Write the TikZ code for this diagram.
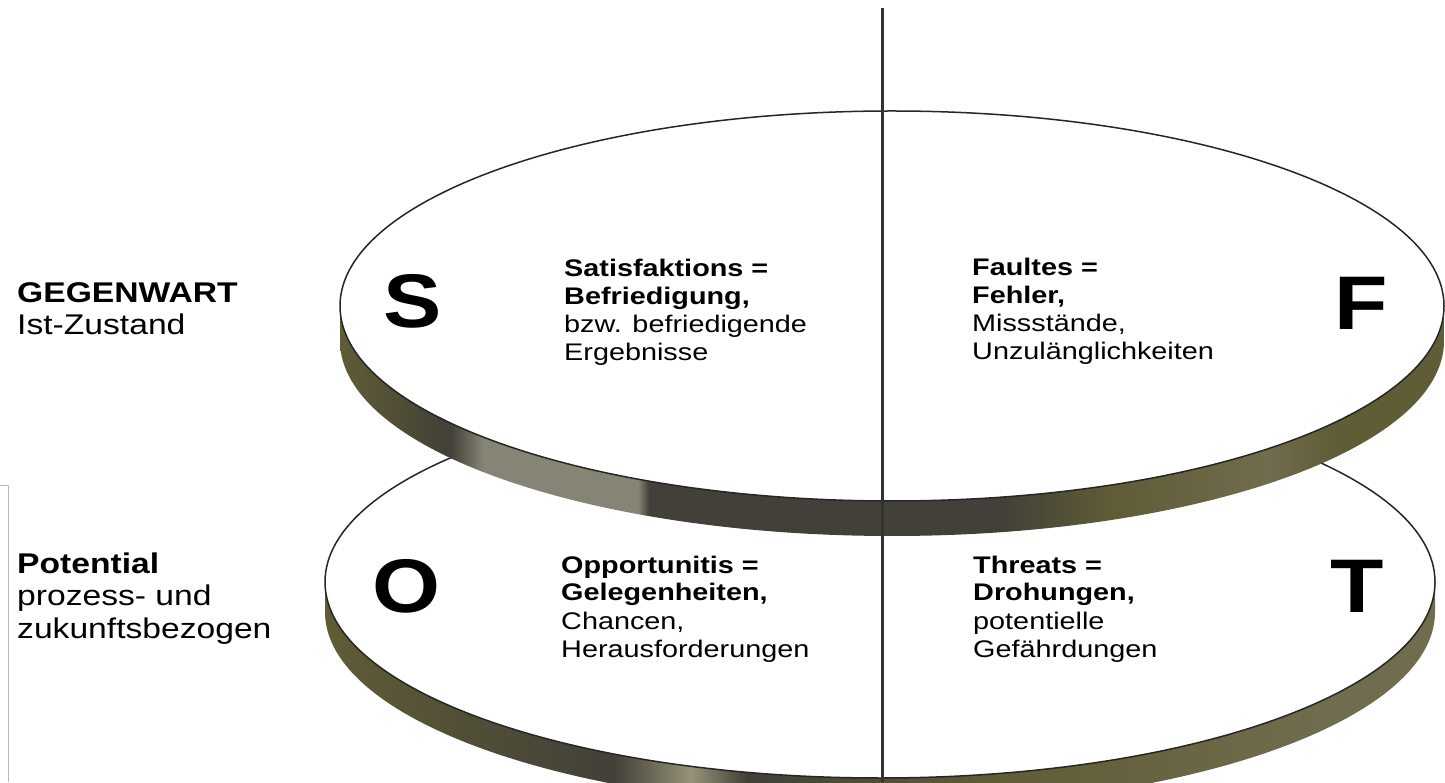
\documentclass[tikz,border=0pt]{standalone}
\usepackage{fontspec}
\setmainfont{Liberation Sans}
\newfontfamily\swotfont[FakeStretch=1.2]{Liberation Sans}
\newfontfamily\letterfont[FakeStretch=1.15]{Liberation Sans}
\newfontfamily\sidefont[FakeStretch=1.18]{Liberation Sans}
\usepackage{tikz}
\definecolor{rimolive}{RGB}{96,92,54}
\definecolor{rimdark}{RGB}{66,64,56}
\definecolor{rimlight}{RGB}{134,132,116}
\definecolor{rimmid}{RGB}{112,108,78}
\definecolor{rimtan}{RGB}{150,146,120}
\pgfdeclarehorizontalshading{toprim}{100bp}{color(0bp)=(rimolive); color(25bp)=(rimolive);
  color(30bp)=(rimdark); color(31.5bp)=(rimlight); color(38.5bp)=(rimlight); color(39bp)=(rimdark);
  color(55bp)=(rimdark); color(60bp)=(rimolive); color(67bp)=(rimmid); color(70bp)=(rimolive);
  color(100bp)=(rimolive)}
\pgfdeclarehorizontalshading{botrim}{100bp}{color(0bp)=(rimdark); color(25bp)=(rimolive);
  color(38bp)=(rimdark); color(41.5bp)=(rimtan); color(44bp)=(rimdark); color(55bp)=(rimolive);
  color(70bp)=(rimmid); color(100bp)=(rimmid)}

\begin{document}
\begin{tikzpicture}[x=1pt, y=1pt,
  face/.style={fill=white, draw=black!85, line width=1.5pt},
  letter/.style={anchor=base west, inner sep=0pt, font=\letterfont\fontsize{76}{80}\selectfont\bfseries},
  swot/.style={anchor=base west, inner sep=0pt, align=left, font=\swotfont\fontsize{24}{28}\selectfont},
  side/.style={anchor=base west, inner sep=0pt, align=left, font=\sidefont\fontsize{28.5}{32.5}\selectfont},
  axis/.style={draw=black!80, line width=3pt}
]
\useasboundingbox (0,0) rectangle (1445,782);

% lower disc
\shade[shading=botrim] (325,200) arc[start angle=180, end angle=360, x radius=555, y radius=196]
  -- ++(0,-30) arc[start angle=360, end angle=180, x radius=555, y radius=196] -- cycle;
\path[face] (880,200) ellipse[x radius=555, y radius=196];

% upper disc
\shade[shading=toprim] (340,476) arc[start angle=180, end angle=360, x radius=552, y radius=195]
  -- ++(0,-35) arc[start angle=360, end angle=180, x radius=552, y radius=195] -- cycle;
\path[face] (892,476) ellipse[x radius=552, y radius=195];

\draw[gray!55, line width=1pt] (0,296) -- (8,296) -- (8,0);

\coordinate (axtop) at (882,774);
\coordinate (axbot) at (882,0);
\draw[axis] (axtop) -- (axbot);

\node[letter] (S) at (383,454) {S};
\node[letter] (F) at (1334,452) {F};
\node[letter] (O) at (372,170) {O};
\node[letter] (T) at (1330,169) {T};

% base anchor sits on the last line
\node[swot] (sat) at (564,421) {\textbf{Satisfaktions =}\\\textbf{Befriedigung,}\\bzw. befriedigende\\Ergebnisse};
\node[swot] (fau) at (972,422) {\textbf{Faultes =}\\\textbf{Fehler,}\\Missstände,\\Unzulänglichkeiten};
\node[swot] (opp) at (561,125) {\textbf{Opportunitis =}\\\textbf{Gelegenheiten,}\\Chancen,\\Herausforderungen};
\node[swot] (thr) at (973,125) {\textbf{Threats =}\\\textbf{Drohungen,}\\potentielle\\Gefährdungen};

\node[side] (gegenwart) at (17,447) {\textbf{GEGENWART}\\Ist-Zustand};
\node[side] (potential) at (17,144) {\textbf{Potential}\\prozess- und\\zukunftsbezogen};
\end{tikzpicture}
\end{document}
